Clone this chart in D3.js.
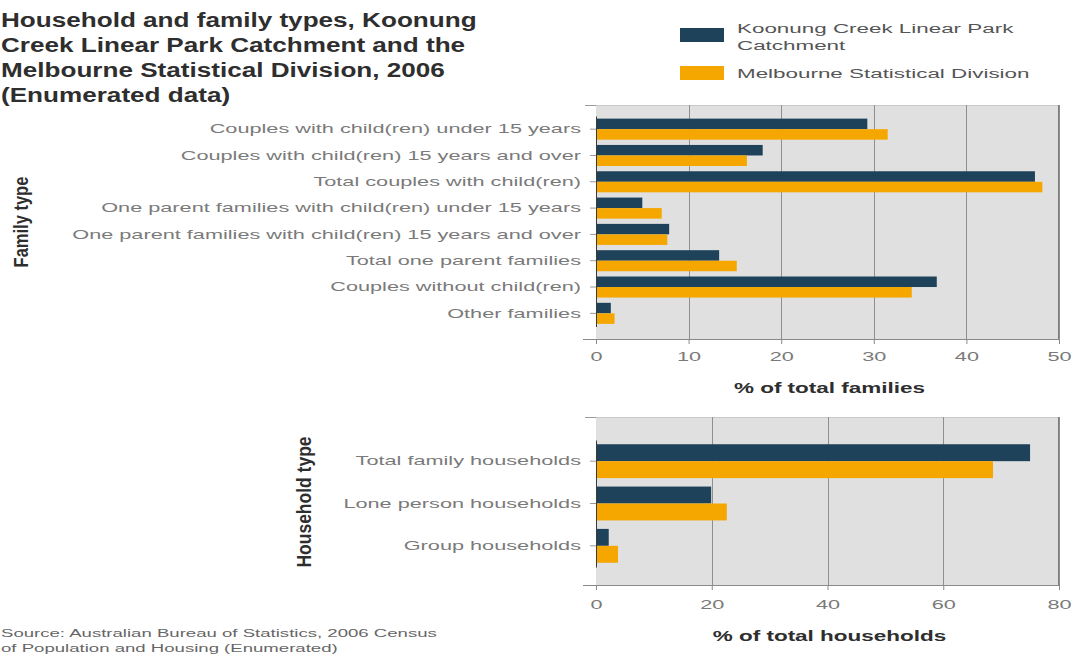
<!DOCTYPE html>
<html>
<head>
<meta charset="utf-8">
<script src="https://cdn.jsdelivr.net/npm/d3@7"></script>
<style>
  html, body { margin: 0; padding: 0; background: #fff; }
  svg { display: block; font-family: "Liberation Sans", Arial, sans-serif; }
</style>
</head>
<body>
<svg id="chart" width="1077" height="664"></svg>
<script>
// Household and family composition, 2006 Census (enumerated), percent
const titleLines = [
  "Household and family types, Koonung",
  "Creek Linear Park Catchment and the",
  "Melbourne Statistical Division, 2006",
  "(Enumerated data)"
];
const seriesNames = ["Koonung Creek Linear Park Catchment", "Melbourne Statistical Division"];
const seriesLegendLines = [["Koonung Creek Linear Park", "Catchment"], ["Melbourne Statistical Division"]];

const familyTypes = [
  "Couples with child(ren) under 15 years",
  "Couples with child(ren) 15 years and over",
  "Total couples with child(ren)",
  "One parent families with child(ren) under 15 years",
  "One parent families with child(ren) 15 years and over",
  "Total one parent families",
  "Couples without child(ren)",
  "Other families"
];
const familyCatchment = [29.3, 18.0, 47.4, 5.0, 7.9, 13.3, 36.8, 1.6];
const familyMelbourne = [31.5, 16.3, 48.2, 7.1, 7.7, 15.2, 34.1, 2.0];
const familyTicks = [0, 10, 20, 30, 40, 50];

const householdTypes = [
  "Total family households",
  "Lone person households",
  "Group households"
];
const householdCatchment = [75.0, 19.9, 2.2];
const householdMelbourne = [68.6, 22.6, 3.8];
const householdTicks = [0, 20, 40, 60, 80];

const sourceLines = [
  "Source: Australian Bureau of Statistics, 2006 Census",
  "of Population and Housing (Enumerated)"
];

// ---- styling ----
const colors = ["#1d4259", "#f5a700"];
const panelFill = "#e0e0e0";
const gridColor = "#8f8f8f";
const labelColor = "#7a7a7a";
const titleColor = "#2e2e2e";
const SX = 1.67;        // horizontal widening of the light labels
const SX_TITLE = 1.305;

const svg = d3.select("#chart");
svg.append("rect").attr("width", 1077).attr("height", 664).attr("fill", "#fff");

// place a text element with horizontal widening
function wideText(parent, str, x, y, opts) {
  const o = Object.assign({ size: 13, sx: SX, weight: "normal", color: labelColor, anchor: "start" }, opts || {});
  return parent.append("text")
    .attr("transform", `translate(${x},${y}) scale(${o.sx},1)`)
    .attr("font-size", o.size)
    .attr("font-weight", o.weight)
    .attr("fill", o.color)
    .attr("text-anchor", o.anchor)
    .text(str);
}

// ---- title ----
titleLines.forEach((line, i) => {
  wideText(svg, line, 1, 27 + i * 25, { size: 20, sx: SX_TITLE, weight: "bold", color: titleColor });
});

// ---- legend ----
const legend = svg.append("g");
const swatchY = [28, 66];
const legendBase = [[33, 50], [78]];
seriesNames.forEach((name, i) => {
  legend.append("rect")
    .attr("x", 680).attr("y", swatchY[i]).attr("width", 44).attr("height", 14)
    .attr("fill", colors[i]);
  seriesLegendLines[i].forEach((line, j) => {
    wideText(legend, line, 737, legendBase[i][j], { size: 13.5, sx: 1.66, color: "#555" });
  });
});

// ---- grouped horizontal bar panel ----
function panel(cfg) {
  const g = svg.append("g");
  const x = d3.scaleLinear().domain([0, cfg.max]).range([cfg.left, cfg.right]);
  const y = d3.scaleBand().domain(cfg.categories).range(cfg.bandRange)
    .paddingInner(0.2).paddingOuter(0.1);
  const sub = d3.scaleBand().domain([0, 1]).range([0, y.bandwidth()]);

  g.append("rect")
    .attr("x", cfg.left).attr("y", cfg.top)
    .attr("width", cfg.right - cfg.left).attr("height", cfg.bottom - cfg.top)
    .attr("fill", panelFill);
  g.append("line")
    .attr("x1", cfg.left).attr("x2", cfg.right).attr("y1", cfg.top + 0.5).attr("y2", cfg.top + 0.5)
    .attr("stroke", "#c9c9c9");

  // vertical gridlines
  g.selectAll("line.grid").data(cfg.ticks.slice(1)).join("line")
    .attr("class", "grid")
    .attr("x1", d => Math.round(x(d)) + 0.5).attr("x2", d => Math.round(x(d)) + 0.5)
    .attr("y1", cfg.top).attr("y2", cfg.bottom)
    .attr("stroke", gridColor).attr("stroke-width", 1);

  // bars
  const rows = cfg.categories.map((c, i) => ({ c, v: [cfg.a[i], cfg.b[i]] }));
  const rowG = g.selectAll("g.row").data(rows).join("g")
    .attr("class", "row")
    .attr("transform", d => `translate(0,${y(d.c)})`);
  rowG.selectAll("rect").data(d => d.v.map((v, k) => ({ v, k }))).join("rect")
    .attr("x", x(0))
    .attr("y", d => sub(d.k))
    .attr("width", d => x(d.v) - x(0))
    .attr("height", sub.bandwidth())
    .attr("fill", d => colors[d.k]);

  // x axis
  const xa = g.append("g")
    .attr("transform", `translate(0,${cfg.bottom})`)
    .call(d3.axisBottom(x).tickValues(cfg.ticks).tickSize(5).tickFormat(d3.format("d")));
  xa.select(".domain").attr("stroke", "#8a8a8a");
  xa.selectAll(".tick line").attr("stroke", "#8a8a8a");
  xa.selectAll(".tick text")
    .attr("y", 0)
    .attr("transform", `translate(0,${5 + cfg.tickPad}) scale(${SX},1)`)
    .attr("font-size", 13).attr("fill", labelColor).attr("font-family", null);

  // y axis
  const ya = g.append("g")
    .attr("transform", `translate(${cfg.left},0)`)
    .call(d3.axisLeft(y).tickSize(6).tickSizeOuter(0));
  ya.select(".domain").attr("stroke", "#3a3a3a");
  ya.selectAll(".tick line").attr("stroke", "#9a9a9a");
  ya.selectAll(".tick text")
    .attr("x", 0)
    .attr("transform", `translate(-15,0) scale(${SX},1)`)
    .attr("font-size", 13).attr("fill", labelColor).attr("font-family", null);

  // outer corner strokes
  g.append("line")
    .attr("x1", cfg.right - 0.5).attr("x2", cfg.right - 0.5)
    .attr("y1", cfg.top).attr("y2", cfg.bottom)
    .attr("stroke", "#7d7d7d");
  g.append("path")
    .attr("d", `M${cfg.left - 13},${cfg.bottom + 0.5}H${cfg.left}`)
    .attr("stroke", "#8a8a8a");
  g.append("path")
    .attr("d", `M${cfg.left - 11},${cfg.top + 0.5}H${cfg.left}`)
    .attr("stroke", "#9a9a9a");

  // axis titles
  wideText(g, cfg.xTitle, (cfg.left + cfg.right) / 2 + 2, cfg.xTitleY,
    { size: 15, sx: 1.5, weight: "bold", color: titleColor, anchor: "middle" });
  g.append("text")
    .attr("transform", `translate(${cfg.yTitleX},${cfg.yTitleY}) scale(1.2,1) rotate(-90)`)
    .attr("text-anchor", "middle")
    .attr("font-size", cfg.yTitleSize).attr("font-weight", "bold").attr("fill", titleColor)
    .text(cfg.yTitle);
}

panel({
  categories: familyTypes, a: familyCatchment, b: familyMelbourne,
  max: 50, ticks: familyTicks,
  left: 596, right: 1059, top: 105, bottom: 339,
  bandRange: [116, 326.5], tickPad: 8,
  xTitle: "% of total families", xTitleY: 393,
  yTitle: "Family type", yTitleX: 28, yTitleY: 222, yTitleSize: 16.5
});

panel({
  categories: householdTypes, a: householdCatchment, b: householdMelbourne,
  max: 80, ticks: householdTicks,
  left: 596, right: 1059, top: 417, bottom: 585,
  bandRange: [440, 567], tickPad: 10,
  xTitle: "% of total households", xTitleY: 641,
  yTitle: "Household type", yTitleX: 311, yTitleY: 502, yTitleSize: 17.5
});

// ---- source note ----
sourceLines.forEach((line, i) => {
  wideText(svg, line, 1, 637 + i * 15, { size: 11, sx: 1.69, color: "#666" });
});
</script>
</body>
</html>
